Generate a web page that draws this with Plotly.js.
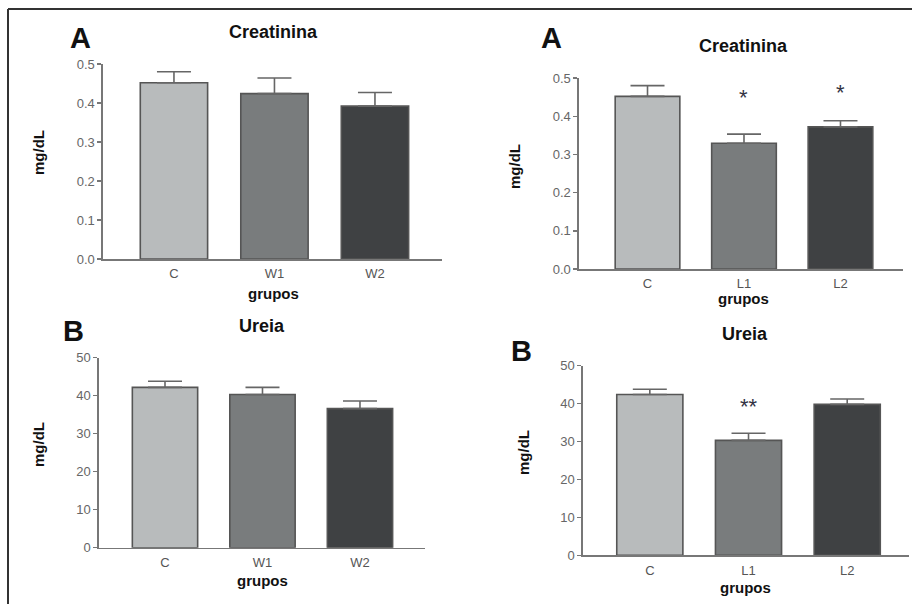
<!DOCTYPE html>
<html>
<head>
<meta charset="utf-8">
<script src="https://cdn.plot.ly/plotly-3.0.1.min.js"></script>
<style>
  html, body { margin: 0; padding: 0; background: #ffffff; }
  #chart { width: 912px; height: 604px; }
</style>
</head>
<body>
<div id="chart"></div>
<script>
// ---- data ----
const groupsW = ["C", "W1", "W2"];
const groupsL = ["C", "L1", "L2"];

const creatW = [0.452, 0.424, 0.392];
const creatWErr = [0.028, 0.040, 0.035];

const creatL = [0.452, 0.329, 0.372];
const creatLErr = [0.028, 0.024, 0.016];
const creatLSig = ["", "*", "*"];
const creatLSigY = [0, 0.453, 0.467];

const ureiaW = [42.2, 40.3, 36.6];
const ureiaWErr = [1.6, 1.9, 2.0];

const ureiaL = [42.4, 30.3, 39.8];
const ureiaLErr = [1.4, 1.9, 1.4];
const ureiaLSig = ["", "**", ""];
const ureiaLSigY = [0, 39.8, 0];

const barColors = ["#b8bbbc", "#797c7d", "#3f4143"];

// ---- styling helpers ----
const FONT = "Liberation Sans, Arial, sans-serif";
const W = 912, H = 604;
const px = v => v / W;
const py = v => 1 - v / H;

function barTrace(x, y, err, xa, ya) {
  return {
    type: "bar", x: x, y: y, xaxis: xa, yaxis: ya,
    marker: { color: barColors, line: { color: "#555555", width: 1.6 } },
    error_y: { type: "data", array: err, arrayminus: err.map(() => 0), symmetric: false,
               color: "#666666", thickness: 1.6, width: 17 },
    hoverinfo: "none", showlegend: false
  };
}

function xAxis(domain, range, anchor) {
  return {
    domain: domain, range: range, anchor: anchor, type: "category",
    showline: true, linecolor: "#777777", linewidth: 1.6,
    ticks: "", showgrid: false, zeroline: false, fixedrange: true,
    tickfont: { family: FONT, size: 13, color: "#555555" },
    ticklabelstandoff: 2
  };
}
function yAxis(domain, range, dtick, fmt, anchor) {
  return {
    domain: domain, range: range, anchor: anchor, dtick: dtick, tickformat: fmt,
    showline: true, linecolor: "#777777", linewidth: 1.6,
    ticks: "outside", ticklen: 4, tickwidth: 1.4, tickcolor: "#777777",
    showgrid: false, zeroline: false, fixedrange: true,
    tickfont: { family: FONT, size: 13, color: "#666666" }
  };
}

const traces = [
  barTrace(groupsW, creatW, creatWErr, "x", "y"),
  barTrace(groupsL, creatL, creatLErr, "x2", "y2"),
  barTrace(groupsW, ureiaW, ureiaWErr, "x3", "y3"),
  barTrace(groupsL, ureiaL, ureiaLErr, "x4", "y4")
];

function txt(text, x, y, size, opts) {
  return Object.assign({
    text: text, x: px(x), y: py(y), xref: "paper", yref: "paper",
    showarrow: false, xanchor: "center", yanchor: "middle",
    font: { family: FONT, size: size, color: "#111111" }
  }, opts || {});
}

const annotations = [
  // panel letters
  txt("<b>A</b>", 80, 38, 29),
  txt("<b>A</b>", 551, 38, 29),
  txt("<b>B</b>", 73, 331, 29),
  txt("<b>B</b>", 521, 351, 29),
  // titles
  txt("<b>Creatinina</b>", 273, 32, 18),
  txt("<b>Creatinina</b>", 743, 46, 18),
  txt("<b>Ureia</b>", 262, 326, 18),
  txt("<b>Ureia</b>", 745, 334, 18),
  // y titles
  txt("<b>mg/dL</b>", 38, 153, 15, { textangle: -90 }),
  txt("<b>mg/dL</b>", 514, 167, 15, { textangle: -90 }),
  txt("<b>mg/dL</b>", 38, 445, 15, { textangle: -90 }),
  txt("<b>mg/dL</b>", 523, 453, 15, { textangle: -90 }),
  // x titles
  txt("<b>grupos</b>", 273, 293, 15),
  txt("<b>grupos</b>", 743, 299, 15),
  txt("<b>grupos</b>", 262, 580, 15),
  txt("<b>grupos</b>", 745, 587, 15)
];

// significance marks from data
const SIGSIZE = 22;
creatLSig.forEach((s, i) => {
  if (s) annotations.push({ text: s, x: groupsL[i], y: creatLSigY[i], xref: "x2", yref: "y2",
    showarrow: false, yanchor: "middle", yshift: -2,
    font: { family: FONT, size: SIGSIZE, color: "#333344" } });
});
ureiaLSig.forEach((s, i) => {
  if (s) annotations.push({ text: s, x: groupsL[i], y: ureiaLSigY[i], xref: "x4", yref: "y4",
    showarrow: false, yanchor: "middle", yshift: -2,
    font: { family: FONT, size: SIGSIZE, color: "#333344" } });
});

const layout = {
  width: W, height: H,
  margin: { l: 0, r: 0, t: 0, b: 0 },
  paper_bgcolor: "#ffffff", plot_bgcolor: "rgba(0,0,0,0)",
  bargap: 0.33,
  xaxis:  xAxis([px(103), px(442)], [-0.706, 2.667], "y"),
  yaxis:  yAxis([py(259), py(64)], [0, 0.5], 0.1, ".1f", "x"),
  xaxis2: xAxis([px(579), px(903)], [-0.71, 2.648], "y2"),
  yaxis2: yAxis([py(269), py(78)], [0, 0.5], 0.1, ".1f", "x2"),
  xaxis3: xAxis([px(99), px(425)], [-0.677, 2.667], "y3"),
  yaxis3: yAxis([py(547.7), py(357.7)], [0, 50], 10, "d", "x3"),
  xaxis4: xAxis([px(583), px(909)], [-0.677, 2.626], "y4"),
  yaxis4: yAxis([py(555.3), py(365.7)], [0, 50], 10, "d", "x4"),
  annotations: annotations,
  shapes: [
    { type: "line", xref: "paper", yref: "paper", x0: px(8), x1: 1, y0: py(9), y1: py(9),
      line: { color: "#333333", width: 2 } },
    { type: "line", xref: "paper", yref: "paper", x0: px(8), x1: px(8), y0: py(9), y1: 0,
      line: { color: "#333333", width: 2 } }
  ]
};

Plotly.newPlot("chart", traces, layout, { displayModeBar: false, staticPlot: true });
</script>
</body>
</html>
